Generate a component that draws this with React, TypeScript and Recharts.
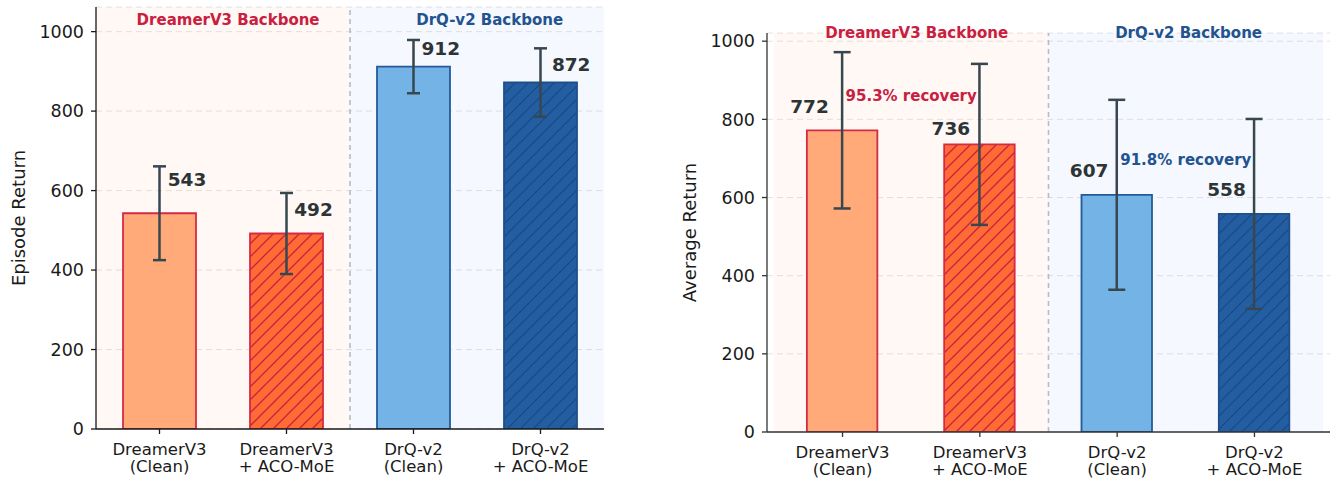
import {
  BarChart,
  Bar,
  Cell,
  XAxis,
  YAxis,
  CartesianGrid,
  ErrorBar,
  ReferenceArea,
  ReferenceLine,
  ReferenceDot,
} from 'recharts';

const FONT = '"DejaVu Sans", Verdana, sans-serif';
const INK = '#2D3436';
const RED = '#C8203E';
const BLUE = '#23538F';

// categories (two-line tick labels)
const methods = [
  ['DreamerV3', '(Clean)'],
  ['DreamerV3', '+ ACO-MoE'],
  ['DrQ-v2', '(Clean)'],
  ['DrQ-v2', '+ ACO-MoE'],
];
const groupTitles = ['DreamerV3 Backbone', 'DrQ-v2 Backbone'];
const yTicks = [0, 200, 400, 600, 800, 1000];

// left panel
const episodeReturn = [543, 492, 912, 872];
const episodeStd = [118, 102, 67, 86];

// right panel
const averageReturn = [772, 736, 607, 558];
const averageStd = [200, 206, 243, 243];
const recoveryText = ['95.3% recovery', '91.8% recovery'];

const barFill = ['#FFAA78', 'url(#hatch-orange)', '#74B3E6', 'url(#hatch-blue)'];
const barEdge = ['#D42A45', '#D42A45', '#245A99', '#1F4F8A'];
const groupColor = [RED, BLUE];

type Layout = {
  width: number;
  margin: { top: number; right: number; bottom: number; left: number };
  yAxisWidth: number;
  xAxisHeight: number;
  yMax: number;
  xDomain: [number, number];
  barSize: number;
  capHalf: number;
  axisColor: string;
  headerX: number[];
  headerDy: number;
  valueNudge: [number, number][];
};

const episodeLayout: Layout = {
  width: 640,
  margin: { top: 7, right: 36, bottom: 0, left: 0 },
  yAxisWidth: 96,
  xAxisHeight: 51,
  yMax: 1062,
  xDomain: [-0.5, 3.5],
  barSize: 73,
  capHalf: 6.5,
  axisColor: '#1a1a1a',
  headerX: [0.54, 2.6],
  headerDy: 18,
  valueNudge: [[27.5, 27], [27, 17.5], [27.3, 11.7], [30.7, 11.3]],
};

const averageLayout: Layout = {
  width: 671,
  margin: { top: 33, right: 1, bottom: 0, left: 0 },
  yAxisWidth: 107,
  xAxisHeight: 48,
  yMax: 1021,
  xDomain: [-0.55, 3.55],
  barSize: 70.5,
  capHalf: 8.5,
  axisColor: '#333333',
  headerX: [0.54, 2.52],
  headerDy: 5.3,
  valueNudge: [[-33, 17.3], [-29, 9.7], [-28, 17.6], [-28, 18]],
};

// label renderer anchored at the centre of the label's viewBox
function textAt(text: string, dx: number, dy: number, style: Record<string, any>) {
  return (props: any) => {
    const vb = props.viewBox ?? {};
    const x = (vb.x ?? vb.cx ?? 0) + (vb.width ?? 0) / 2 + dx;
    const y = (vb.y ?? vb.cy ?? 0) + (vb.height ?? 0) / 2 + dy;
    return (
      <text x={x} y={y} textAnchor="middle" fontFamily={FONT} {...style}>
        {text}
      </text>
    );
  };
}

function MethodTick(props: any) {
  const { x, y, payload } = props;
  const lines = methods[payload.value] ?? [];
  return (
    <text x={x} y={y} textAnchor="middle" fontFamily={FONT} fontSize={16.5} fill="#1a1a1a">
      {lines.map((l, i) => (
        <tspan key={i} x={x} dy={i === 0 ? 20.5 : 17.5}>
          {l}
        </tspan>
      ))}
    </text>
  );
}

function yLabel(text: string) {
  return (props: any) => {
    const vb = props.viewBox ?? { x: 0, y: 0, width: 0, height: 0 };
    const x = vb.x + vb.width - 77.5;
    const y = vb.y + vb.height / 2;
    return (
      <text
        x={x}
        y={y}
        transform={`rotate(-90 ${x} ${y})`}
        textAnchor="middle"
        dominantBaseline="central"
        fontFamily={FONT}
        fontSize={18}
        fill="#1a1a1a"
      >
        {text}
      </text>
    );
  };
}

function ReturnPanel({
  values,
  errors,
  title,
  cfg,
  recovery,
}: {
  values: number[];
  errors: number[];
  title: string;
  cfg: Layout;
  recovery?: string[];
}) {
  const rows = values.map((v, i) => ({ pos: i, value: v, err: errors[i] }));
  return (
    <BarChart width={cfg.width} height={480} data={rows} margin={cfg.margin}>
      <ReferenceArea x1={-0.5} x2={1.5} fill="#FF6F40" fillOpacity={0.05} stroke="none" ifOverflow="visible" />
      <ReferenceArea x1={1.5} x2={3.5} fill="#1E64E6" fillOpacity={0.045} stroke="none" ifOverflow="visible" />
      <CartesianGrid vertical={false} stroke="#D8D8D8" strokeDasharray="6 4" strokeOpacity={0.7} />
      <ReferenceLine x={1.5} stroke="#B0BEC5" strokeDasharray="5 4" strokeWidth={1.6} />
      <XAxis
        type="number"
        dataKey="pos"
        domain={cfg.xDomain}
        ticks={[0, 1, 2, 3]}
        interval={0}
        allowDataOverflow
        height={cfg.xAxisHeight}
        tick={<MethodTick />}
        tickSize={5}
        tickMargin={0}
        axisLine={{ stroke: cfg.axisColor, strokeWidth: 1.3 }}
        tickLine={{ stroke: cfg.axisColor, strokeWidth: 1.3 }}
      />
      <YAxis
        type="number"
        domain={[0, cfg.yMax]}
        ticks={yTicks}
        interval={0}
        allowDataOverflow
        width={cfg.yAxisWidth}
        tick={{ fontSize: 17.5, fill: '#1a1a1a', fontFamily: FONT }}
        tickSize={5}
        tickMargin={7}
        axisLine={{ stroke: cfg.axisColor, strokeWidth: 1.3 }}
        tickLine={{ stroke: cfg.axisColor, strokeWidth: 1.3 }}
        label={yLabel(title)}
      />
      <Bar dataKey="value" barSize={cfg.barSize} strokeWidth={1.8} isAnimationActive={false}>
        {rows.map((r) => (
          <Cell key={r.pos} fill={barFill[r.pos]} stroke={barEdge[r.pos]} />
        ))}
        <ErrorBar
          dataKey="err"
          direction="y"
          width={cfg.capHalf}
          strokeWidth={2.5}
          stroke="#37474F"
          isAnimationActive={false}
        />
      </Bar>
      {groupTitles.map((t, g) => (
        <ReferenceDot
          key={t}
          x={cfg.headerX[g]}
          y={cfg.yMax}
          r={0}
          fill="none"
          stroke="none"
          ifOverflow="visible"
          label={textAt(t, 0, cfg.headerDy, { fontSize: 15, fontWeight: 700, fill: groupColor[g] })}
        />
      ))}
      {rows.map((r) => (
        <ReferenceDot
          key={`v${r.pos}`}
          x={r.pos}
          y={r.value}
          r={0}
          fill="none"
          stroke="none"
          ifOverflow="visible"
          label={textAt(String(r.value), cfg.valueNudge[r.pos][0], -cfg.valueNudge[r.pos][1], {
            fontSize: 18.5,
            fontWeight: 700,
            fill: INK,
          })}
        />
      ))}
      {recovery?.map((t, g) => (
        <ReferenceDot
          key={t}
          x={g * 2 + 0.5}
          y={values[g * 2] + 76}
          r={0}
          fill="none"
          stroke="none"
          ifOverflow="visible"
          label={textAt(t, 0, 0, { fontSize: 15, fontWeight: 700, fill: groupColor[g] })}
        />
      ))}
    </BarChart>
  );
}

export default function App() {
  return (
    <div
      style={{
        position: 'absolute',
        left: 0,
        top: 0,
        width: 1331,
        height: 480,
        background: '#fff',
        overflow: 'hidden',
      }}
    >
      <svg width={0} height={0} style={{ position: 'absolute' }}>
        <defs>
          <pattern id="hatch-orange" patternUnits="userSpaceOnUse" width={13} height={13}>
            <rect width={13} height={13} fill="#FF6B35" />
            <path d="M-2,2 l4,-4 M0,13 l13,-13 M11,15 l4,-4" stroke="#C8203E" strokeWidth={1.3} />
          </pattern>
          <pattern id="hatch-blue" patternUnits="userSpaceOnUse" width={13} height={13}>
            <rect width={13} height={13} fill="#245EA2" />
            <path d="M-2,2 l4,-4 M0,13 l13,-13 M11,15 l4,-4" stroke="#1A477E" strokeWidth={1.2} />
          </pattern>
        </defs>
      </svg>
      <div style={{ position: 'absolute', left: 0, top: 0 }}>
        <ReturnPanel values={episodeReturn} errors={episodeStd} title="Episode Return" cfg={episodeLayout} />
      </div>
      <div style={{ position: 'absolute', left: 660, top: 0 }}>
        <ReturnPanel
          values={averageReturn}
          errors={averageStd}
          title="Average Return"
          cfg={averageLayout}
          recovery={recoveryText}
        />
      </div>
    </div>
  );
}
